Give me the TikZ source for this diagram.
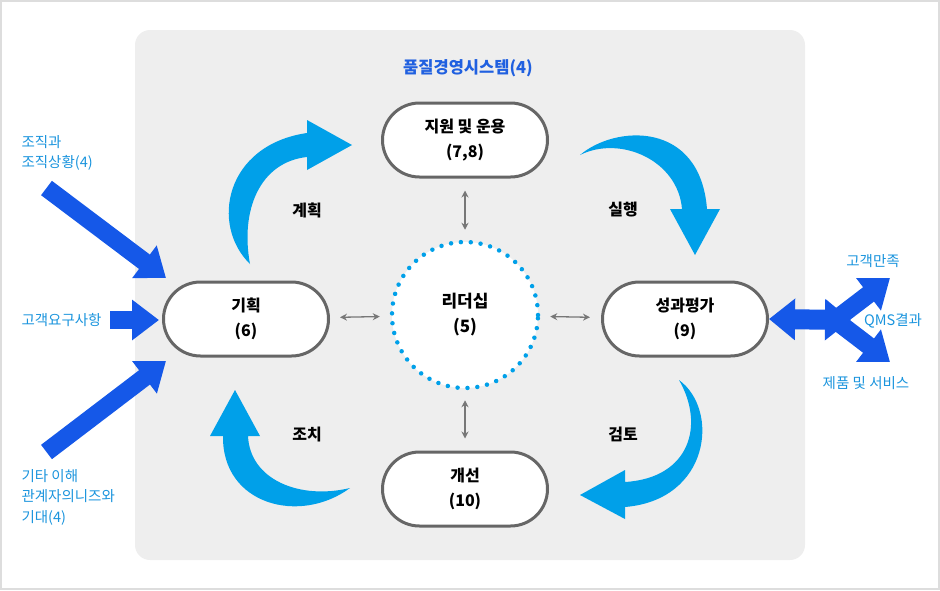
\documentclass[tikz,border=0pt]{standalone}
\usepackage{fontspec}
\setmainfont{Noto Sans CJK KR}
\usetikzlibrary{arrows.meta}

\definecolor{panelgray}{HTML}{EEEEEE}
\definecolor{framegray}{HTML}{DDDDDD}
\definecolor{edgegray}{HTML}{666666}
\definecolor{linkgray}{HTML}{777777}
\definecolor{arcblue}{HTML}{00A0E9}
\definecolor{feedblue}{HTML}{1558E8}
\definecolor{labelblue}{HTML}{1A94DD}
\definecolor{titleblue}{HTML}{2060E0}

\begin{document}
\begin{tikzpicture}[x=1pt,y=-1pt,
		stage/.style={rectangle,rounded corners=37pt,draw=edgegray,line width=3pt,fill=white,
			minimum width=165pt,minimum height=74pt,align=center,
			font=\fontsize{16pt}{25pt}\selectfont\bfseries},
		lead/.style={circle,draw=arcblue,line width=4.5pt,line cap=round,
			dash pattern=on 0pt off 9.9pt,fill=white,minimum size=146pt,align=center,
			font=\fontsize{17pt}{25pt}\selectfont\bfseries},
		link/.style={draw=linkgray,line width=1.3pt,{Stealth[length=7pt,width=7pt]}-{Stealth[length=7pt,width=7pt]}},
		curve/.style={fill=arcblue},
		feed/.style={draw=feedblue,line width=18pt,-{Triangle[length=27pt,width=39pt]}},
		phase/.style={font=\fontsize{16pt}{20pt}\selectfont\bfseries},
		side/.style={text=labelblue,align=left,font=\fontsize{14.5pt}{20.5pt}\selectfont}]
		\useasboundingbox (0,0) rectangle (940,590);
		\draw[framegray,line width=2pt] (1,1) rectangle (939,589);
		\fill[panelgray,rounded corners=15pt] (135,30) rectangle (805,560);
		\node[text=titleblue,font=\fontsize{16.5pt}{18pt}\selectfont\bfseries] (qms) at (468,68) {품질경영시스템(4)};

		% cycle of stages
		\node[stage] (support) at (465,140) {지원 및 운용\\(7,8)};
		\node[stage] (plan) at (246,319) {기획\\(6)};
		\node[stage] (perf) at (685,319) {성과평가\\(9)};
		\node[stage] (improve) at (465,489) {개선\\(10)};
		\node[lead] (lead) at (465,315) {리더십\\(5)};

		\draw[link,shorten <=12pt,shorten >=10pt] (support) -- (lead);
		\draw[link,shorten <=10pt,shorten >=12pt] (lead) -- (improve);
		\draw[link,shorten <=10pt,shorten >=10pt] (plan) -- (lead);
		\draw[link,shorten <=10pt,shorten >=11pt] (lead) -- (perf);

		\fill[curve] (250,264) .. controls (210,225) and (225,145) .. (307,133) -- (307,120) -- (352,145)
			-- (307,170) -- (307,157) .. controls (260,162) and (240,210) .. (250,264) -- cycle;
		\fill[curve] (580,155) .. controls (615,125) and (700,120) .. (707,209) -- (720,209) -- (695,255)
			-- (670,209) -- (682,209) .. controls (678,160) and (620,135) .. (580,155) -- cycle;
		\fill[curve] (679,380) .. controls (720,410) and (710,500) .. (625,507) -- (625,519) -- (580,495)
			-- (625,470) -- (625,482) .. controls (690,478) and (705,425) .. (679,380) -- cycle;
		\fill[curve] (350,488) .. controls (300,525) and (222,505) .. (223,436) -- (210,436) -- (235,390)
			-- (260,436) -- (248,436) .. controls (250,480) and (300,500) .. (350,488) -- cycle;

		\node[phase] (plantxt) at (307,210) {계획};
		\node[phase] (dotxt) at (623,210) {실행};
		\node[phase] (acttxt) at (307,434) {조치};
		\node[phase] (checktxt) at (623,434) {검토};

		% inputs
		\node[side,anchor=west] (org) at (18,153) {조직과\\조직상황(4)};
		\node[side,anchor=west] (cust) at (18,320) {고객요구사항};
		\node[side,anchor=west] (party) at (18,497) {기타 이해\\관계자의니즈와\\기대(4)};
		\coordinate (orgtail) at (46.5,188);
		\coordinate (orgtip) at (166,278);
		\coordinate (custtail) at (110,320);
		\coordinate (custtip) at (159,320);
		\coordinate (partytail) at (46.5,452);
		\coordinate (partytip) at (166,361);
		\draw[feed] (orgtail) -- (orgtip);
		\draw[feed] (custtail) -- (custtip);
		\draw[feed] (partytail) -- (partytip);

		% outputs
		\coordinate (split) at (835,320);
		\coordinate (fork) at (851,320);
		\coordinate (sattip) at (890,278);
		\coordinate (prodtip) at (890,362);
		\draw[feed] (split) -- (sattip);
		\draw[feed] (split) -- (prodtip);
		\draw[feed,line width=20pt,{Triangle[length=26pt,width=40pt]}-{Triangle[length=26pt,width=40pt]}] (perf.east) -- (fork);
		\node[side] (sat) at (873,261) {고객만족};
		\node[side] (result) at (893,321) {QMS결과};
		\node[side] (prod) at (866,383) {제품 및 서비스};
	\end{tikzpicture}
\end{document}
